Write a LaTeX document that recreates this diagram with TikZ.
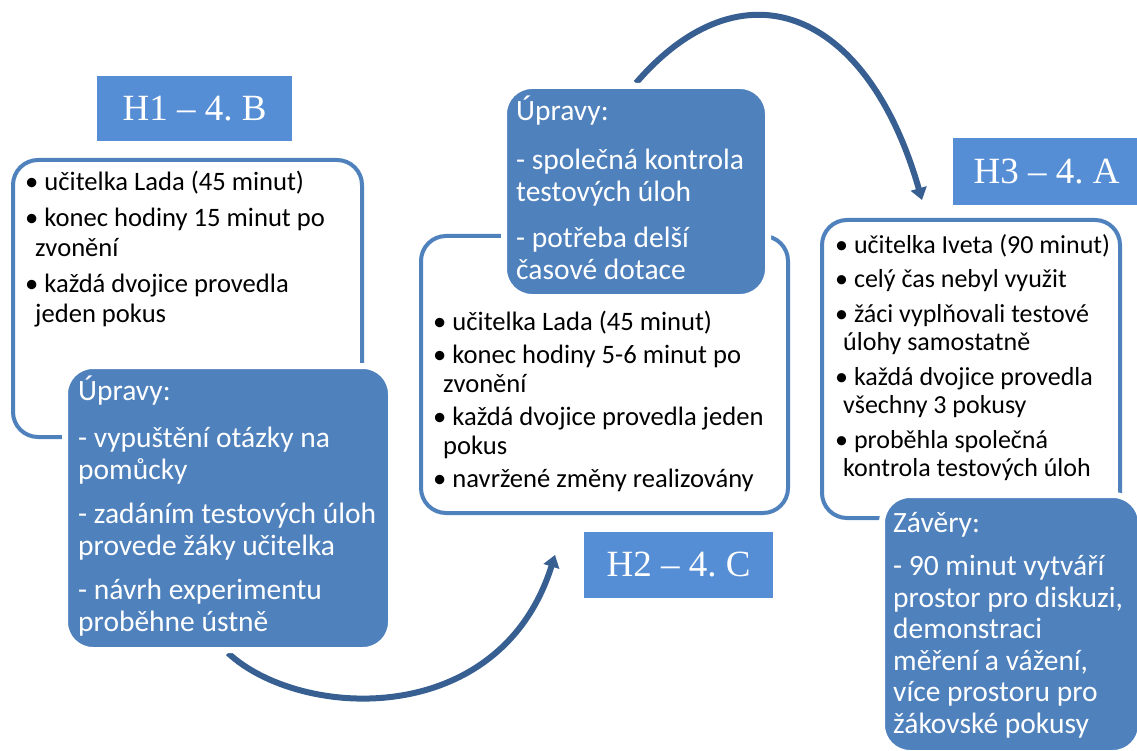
\documentclass[tikz,border=0pt]{standalone}
\usepackage{fontspec}
\setmainfont{Carlito}
\newfontfamily\labelfont{Liberation Serif}
\usetikzlibrary{arrows.meta,backgrounds}
\frenchspacing

\definecolor{boxblue}{HTML}{4F81BD}
\definecolor{labelblue}{HTML}{558ED5}
\definecolor{arrowblue}{HTML}{385F92}

\newcommand\liststrut{\rule{0pt}{22pt}}
\newcommand\changestrut{\rule{0pt}{26pt}}

\tikzset{
  lesson/.style={rectangle, rounded corners=25pt, draw=boxblue, line width=4pt, fill=white, inner sep=0pt},
  change/.style={rectangle, rounded corners=28pt, draw=white, line width=6pt, fill=boxblue, inner sep=0pt},
  tag/.style={rectangle, fill=labelblue, text=white, inner sep=0pt, font=\labelfont\fontsize{37}{40}\selectfont},
  listtext/.style={anchor=north west, align=left, inner sep=0pt, font=\fontsize{26.6}{28.5}\selectfont},
  changetext/.style={anchor=north west, align=left, inner sep=0pt, text=white, font=\fontsize{29.5}{31.5}\selectfont},
  cyclearrow/.style={draw=arrowblue, line width=6pt, -{Triangle[width=16pt,length=12pt]}}
}

\begin{document}
\begin{tikzpicture}[x=1pt,y=-1pt]
 	\useasboundingbox (0,0) rectangle (1137,751);
 	\clip (0,0) rectangle (1137,751);

 	% Define the arrow ends
 	\coordinate (into h2) at (555,555);
 	\coordinate (into h3) at (922,200);

 	% Define the lesson boxes
 	\node[lesson, minimum width=349pt, minimum height=277pt] (lesson1) at (187.5,298.5) {};
 	\node[lesson, minimum width=367pt, minimum height=277pt] (lesson2) at (604.5,374.5) {};
 	\node[lesson, minimum width=298pt, minimum height=298pt] (lesson3) at (971,369) {};

 	% Define the change boxes
 	\node[change, minimum width=326pt, minimum height=284pt] (change1) at (228,508) {};
 	\node[change, minimum width=264pt, minimum height=211pt] (change2) at (636,191.5) {};
 	\node[change, minimum width=259pt, minimum height=258pt] (change3) at (1011.5,624) {};

 	% Draw the arrows behind the boxes
 	\begin{scope}[on background layer]
 	  \draw[cyclearrow] (change1.south) .. controls (300,720) and (500,730) .. (into h2);
 	  \draw[cyclearrow] (change2.north) .. controls (742,-40) and (867,8) .. (into h3);
 	\end{scope}

 	% Define the texts
 	\node[listtext, font=\fontsize{26.6}{30}\selectfont] (lesson1 text) at (25,168) {\liststrut• učitelka Lada (45 minut)\\[6pt]
 	  • konec hodiny 15 minut po\\\hspace*{10pt}zvonění\\[6pt]
 	  • každá dvojice provedla\\\hspace*{10pt}jeden pokus};
 	\node[listtext] (lesson2 text) at (433,308) {\liststrut• učitelka Lada (45 minut)\\[5pt]
 	  • konec hodiny 5-6 minut po\\\hspace*{10pt}zvonění\\[5pt]
 	  • každá dvojice provedla jeden\\\hspace*{10pt}pokus\\[5pt]
 	  • navržené změny realizovány};
 	\node[listtext, font=\fontsize{26}{28.5}\selectfont] (lesson3 text) at (835,231) {\liststrut• učitelka Iveta (90 minut)\\[6pt]
 	  • celý čas nebyl využit\\[6pt]
 	  • žáci vyplňovali testové\\\hspace*{8pt}úlohy samostatně\\[6pt]
 	  • každá dvojice provedla\\\hspace*{8pt}všechny 3 pokusy\\[6pt]
 	  • proběhla společná\\\hspace*{8pt}kontrola testových úloh};
 	\node[changetext] (change1 text) at (78,374) {\changestrut Úpravy:\\[16pt]
 	  - vypuštění otázky na\\pomůcky\\[13pt]
 	  - zadáním testových úloh\\provede žáky učitelka\\[13pt]
 	  - návrh experimentu\\proběhne ústně};
 	\node[changetext] (change2 text) at (516,94) {\changestrut Úpravy:\\[18pt]
 	  - společná kontrola\\testových úloh\\[15pt]
 	  - potřeba delší\\časové dotace};
 	\node[changetext] (change3 text) at (893,506) {\changestrut Závěry:\\[12pt]
 	  - 90 minut vytváří\\prostor pro diskuzi,\\demonstraci\\měření a vážení,\\více prostoru pro\\žákovské pokusy};

 	% Define the lesson labels
 	\node[tag, minimum width=195pt, minimum height=65pt] (h1) at (194.5,108.5) {H1 – 4. B};
 	\node[tag, minimum width=189pt, minimum height=66pt] (h2) at (678.5,565) {H2 – 4. C};
 	\node[tag, minimum width=187pt, minimum height=67pt] (h3) at (1046.5,171.5) {H3 – 4. A};
\end{tikzpicture}
\end{document}
